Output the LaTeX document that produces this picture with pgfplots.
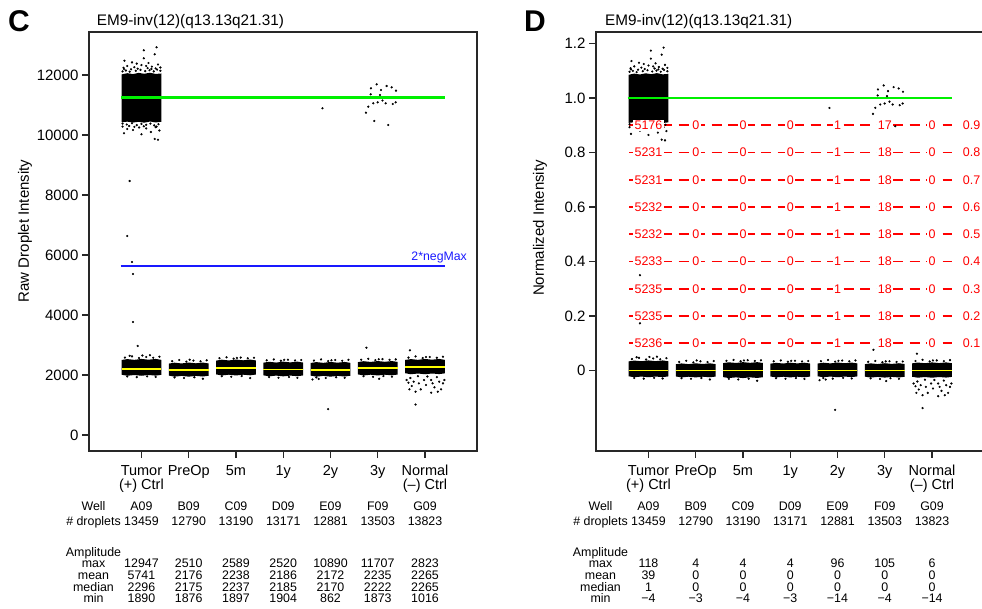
\documentclass[border=0pt]{standalone}
\usepackage{fontspec}
\setmainfont{Liberation Sans}
\usepackage{pgfplots}
\pgfplotsset{compat=1.18}
\definecolor{lgreen}{RGB}{0,240,0}
\definecolor{myyellow}{RGB}{255,255,0}
\definecolor{myblue}{RGB}{25,25,255}
\definecolor{myred}{RGB}{255,0,0}
\definecolor{axgray}{RGB}{40,40,40}
\newcommand\tabfont{\fontsize{12.4}{12.4}\selectfont}
\newcommand\redfont{\fontsize{12.5}{12.5}\selectfont}
\tikzset{tab/.style={font=\tabfont, inner sep=0pt, anchor=base}}
\newcommand\trow[4]{%
  \node[tab] at (93.5+#1,#2) {#3};
  \foreach \v [count=\i from 0] in {#4} {\node[tab] at (141.46+47.26*\i+#1,#2) {\v};}
}
\pgfplotsset{
  panel/.style={
    scale only axis, width=388pt, height=419pt,
    xmin=-1.11, xmax=7.1, clip=false,
    scaled y ticks=false,
    xtick={0,1,2,3,4,5,6},
    xticklabels={{Tumor\\(+) Ctrl},PreOp,5m,1y,2y,3y,{Normal\\(–) Ctrl}},
    xticklabel style={align=center, font=\fontsize{14.5}{14}\selectfont, yshift=-3.5pt},
    yticklabel style={font=\fontsize{15}{15}\selectfont},
    tick align=outside, tick pos=left, major tick length=7pt,
    axis line style={line width=1.2pt, axgray},
    every tick/.append style={line width=1.2pt, axgray},
    /pgf/number format/assume math mode=true,
  },
  dots/.style={only marks, mark=*, mark size=0.9pt, black, mark options={draw=none, fill=black}},
  blob/.style={fill=black, draw=none, mark=none},
  yel/.style={myyellow, line width=1.8pt, mark=none},
}
\begin{document}
\begin{tikzpicture}[x=1pt,y=1pt]
% ================= Panel C =================
\begin{axis}[panel, at={(89pt,157pt)}, anchor=south west,
  ymin=-533.3, ymax=13433.3,
  ytick={0,2000,4000,6000,8000,10000,12000},
  yticklabels={0,2000,4000,6000,8000,10000,12000}]
% positive cluster, tumor
\addplot[blob] coordinates {(-0.42,12020) (-0.3,12060) (-0.18,12030) (-0.06,12070) (0.06,12040) (0.18,12075) (0.3,12035) (0.42,12050) (0.42,10440) (0.3,10420) (0.18,10450) (0.06,10410) (-0.06,10440) (-0.18,10415) (-0.3,10445) (-0.42,10425)};
% negative clusters
\addplot[blob] coordinates {(-0.42,2010) (-0.42,2500) (-0.3,2530) (-0.15,2505) (0,2535) (0.15,2510) (0.3,2535) (0.42,2505) (0.42,2005) (0.3,1980) (0.15,2000) (0,1975) (-0.15,2000) (-0.3,1975)};
\addplot[blob] coordinates {(0.58,1980) (0.58,2380) (0.7,2410) (0.85,2385) (1,2415) (1.15,2390) (1.3,2415) (1.42,2385) (1.42,1975) (1.3,1950) (1.15,1970) (1,1945) (0.85,1970) (0.7,1945)};
\addplot[blob] coordinates {(1.58,2020) (1.58,2480) (1.7,2510) (1.85,2485) (2,2515) (2.15,2490) (2.3,2515) (2.42,2485) (2.42,2015) (2.3,1990) (2.15,2010) (2,1985) (1.85,2010) (1.7,1985)};
\addplot[blob] coordinates {(2.58,1990) (2.58,2410) (2.7,2440) (2.85,2415) (3,2445) (3.15,2420) (3.3,2445) (3.42,2415) (3.42,1985) (3.3,1960) (3.15,1980) (3,1955) (2.85,1980) (2.7,1955)};
\addplot[blob] coordinates {(3.58,1980) (3.58,2400) (3.7,2430) (3.85,2405) (4,2435) (4.15,2410) (4.3,2435) (4.42,2405) (4.42,1975) (4.3,1950) (4.15,1970) (4,1945) (3.85,1970) (3.7,1945)};
\addplot[blob] coordinates {(4.58,2020) (4.58,2430) (4.7,2460) (4.85,2435) (5,2465) (5.15,2440) (5.3,2465) (5.42,2435) (5.42,2015) (5.3,1990) (5.15,2010) (5,1985) (4.85,2010) (4.7,1985)};
\addplot[blob] coordinates {(5.58,2060) (5.58,2500) (5.7,2530) (5.85,2505) (6,2535) (6.15,2510) (6.3,2535) (6.42,2505) (6.42,2055) (6.3,2030) (6.15,2050) (6,2025) (5.85,2050) (5.7,2025)};
% scattered droplets
\addplot[dots] coordinates {(0.32,12923) (0.05,12823) (0.28,12690) (0.05,12557) (-0.36,12477) (-0.2,12420) (-0.1,12380) (0.15,12400) (0.35,12350) (-0.3,12300) (0.0,12330) (0.22,12280) (-0.15,12260) (0.4,12250) (-0.38,12240) (0.1,12300) (0.28,9867) (0.35,9843) (-0.37,10057) (0.0,10023) (-0.18,10167) (0.2,10100) (-0.3,10200) (0.1,10220) (0.38,10150) (-0.05,10250) (0.3,10260) (-0.4,10280)
 (-0.4,12120) (-0.33,12150) (-0.25,12110) (-0.12,12140) (-0.02,12170) (0.08,12130) (0.17,12160) (0.26,12120) (0.33,12180) (0.4,12140) (-0.37,12200) (-0.08,12210) (0.13,12230) (0.3,12220) (-0.22,12190) (0.21,12200)
 (-0.4,10380) (-0.31,10350) (-0.2,10390) (-0.1,10330) (0.0,10370) (0.1,10340) (0.19,10380) (0.27,10320) (0.36,10360) (-0.26,10300) (0.05,10290) (0.32,10280) (-0.15,10270)
 (-0.25,8467) (-0.3,6633) (-0.2,5767) (-0.18,5367) (-0.18,3767) (-0.08,2967)
 (-0.35,2580) (-0.2,2620) (-0.05,2565) (0.1,2600) (0.25,2575) (0.38,2610) (0.02,2650) (-0.3,1950) (-0.1,1930) (0.12,1955) (0.3,1935) (-0.25,2640) (0.18,2660)
 (0.65,2460) (0.8,2500) (0.95,2445) (1.1,2480) (1.25,2455) (1.38,2490) (1.02,2510) (0.7,1920) (0.9,1900) (1.12,1925) (1.3,1876)
 (1.65,2560) (1.8,2589) (1.95,2545) (2.1,2580) (2.25,2555) (2.38,2575) (2.02,2570) (1.7,1960) (1.9,1940) (2.12,1965) (2.3,1897)
 (2.65,2490) (2.8,2520) (2.95,2475) (3.1,2510) (3.25,2485) (3.38,2500) (3.02,2505) (2.7,1930) (2.9,1910) (3.12,1935) (3.3,1904)
 (3.65,2480) (3.8,2520) (3.95,2465) (4.1,2500) (4.25,2475) (4.38,2505) (4.02,2490) (3.7,1920) (3.9,1900) (4.12,1925) (4.3,1905) (3.62,1850) (3.75,1870) (3.95,862) (3.83,10890)
 (4.65,2510) (4.8,2540) (4.95,2495) (5.1,2530) (5.25,2505) (5.38,2520) (5.02,2525) (4.7,1960) (4.9,1940) (5.12,1965) (5.3,1945) (4.76,2910) (5.03,1873)
 (4.977,11689) (5.188,11633) (5.294,11589) (4.856,11556) (5.068,11500) (5.386,11478) (4.850,11356) (5.047,11333) (5.379,11089) (4.905,11056) (4.998,11089) (5.167,11056) (5.316,11033) (4.800,10944) (4.750,10744) (4.927,10467) (5.223,10333) (5.1,11150)
 (5.65,2580) (5.8,2620) (5.95,2565) (6.1,2600) (6.25,2575) (6.38,2610) (6.02,2600) (5.68,2823)
 (5.61,1833) (5.65,1744) (5.72,1633) (5.67,1522) (5.80,1444) (5.91,1522) (6.02,1667) (6.13,1833) (6.16,1722) (6.20,1589) (6.27,1444) (6.34,1522) (6.38,1722) (6.41,1833) (6.13,1411) (5.98,1833) (5.76,1778) (5.87,1722) (6.30,1778) (5.69,1900) (6.05,1950) (5.85,1960) (6.25,1930) (5.80,1016)};
% lines
\addplot[color=lgreen, line width=2.2pt, mark=none] coordinates {(-0.44,11250) (6.42,11250)};
\addplot[color=myblue, line width=2pt, mark=none] coordinates {(-0.44,5646) (6.42,5646)};
\addplot[yel] coordinates {(-0.42,2200) (0.42,2200)};
\addplot[yel] coordinates {(0.58,2175) (1.42,2175)};
\addplot[yel] coordinates {(1.58,2237) (2.42,2237)};
\addplot[yel] coordinates {(2.58,2185) (3.42,2185)};
\addplot[yel] coordinates {(3.58,2170) (4.42,2170)};
\addplot[yel] coordinates {(4.58,2222) (5.42,2222)};
\addplot[yel] coordinates {(5.58,2265) (6.42,2265)};
\node[anchor=base east, text=myblue, font=\fontsize{12.3}{12}\selectfont, inner sep=0pt] at (axis cs:6.89,5833) {2*negMax};
\end{axis}
% ================= Panel D =================
\begin{axis}[panel, at={(596pt,157pt)}, anchor=south west,
  ymin=-0.2954, ymax=1.2422,
  ytick={0,0.2,0.4,0.6,0.8,1.0,1.2},
  yticklabels={0,0.2,0.4,0.6,0.8,1.0,1.2}]
\addplot[blob] coordinates {(-0.42,1.0851) (-0.3,1.0895) (-0.18,1.0862) (-0.06,1.0906) (0.06,1.0873) (0.18,1.0912) (0.3,1.0867) (0.42,1.0884) (0.42,0.9105) (0.3,0.9083) (0.18,0.9116) (0.06,0.9072) (-0.06,0.9105) (-0.18,0.9077) (-0.3,0.9111) (-0.42,0.9088)};
\addplot[blob] coordinates {(-0.42,-0.0212) (-0.42,0.0334) (-0.3,0.0364) (-0.15,0.0339) (0,0.0369) (0.15,0.0344) (0.3,0.0369) (0.42,0.0339) (0.42,-0.0217) (0.3,-0.0242) (0.15,-0.0222) (0,-0.0247) (-0.15,-0.0222) (-0.3,-0.0247)};
\addplot[blob] coordinates {(0.58,-0.0218) (0.58,0.0229) (0.7,0.0259) (0.85,0.0234) (1,0.0264) (1.15,0.0239) (1.3,0.0264) (1.42,0.0234) (1.42,-0.0223) (1.3,-0.0248) (1.15,-0.0228) (1,-0.0253) (0.85,-0.0228) (0.7,-0.0253)};
\addplot[blob] coordinates {(1.58,-0.0242) (1.58,0.0271) (1.7,0.0301) (1.85,0.0276) (2,0.0306) (2.15,0.0281) (2.3,0.0306) (2.42,0.0276) (2.42,-0.0247) (2.3,-0.0272) (2.15,-0.0252) (2,-0.0277) (1.85,-0.0252) (1.7,-0.0277)};
\addplot[blob] coordinates {(2.58,-0.0218) (2.58,0.0251) (2.7,0.0281) (2.85,0.0256) (3,0.0286) (3.15,0.0261) (3.3,0.0286) (3.42,0.0256) (3.42,-0.0223) (3.3,-0.0248) (3.15,-0.0228) (3,-0.0253) (2.85,-0.0228) (2.7,-0.0253)};
\addplot[blob] coordinates {(3.58,-0.0212) (3.58,0.0256) (3.7,0.0286) (3.85,0.0261) (4,0.0291) (4.15,0.0266) (4.3,0.0291) (4.42,0.0261) (4.42,-0.0217) (4.3,-0.0242) (4.15,-0.0222) (4,-0.0247) (3.85,-0.0222) (3.7,-0.0247)};
\addplot[blob] coordinates {(4.58,-0.0225) (4.58,0.0232) (4.7,0.0262) (4.85,0.0237) (5,0.0267) (5.15,0.0242) (5.3,0.0267) (5.42,0.0237) (5.42,-0.0230) (5.3,-0.0255) (5.15,-0.0235) (5,-0.0260) (4.85,-0.0235) (4.7,-0.0260)};
\addplot[blob] coordinates {(5.58,-0.0229) (5.58,0.0262) (5.7,0.0292) (5.85,0.0267) (6,0.0297) (6.15,0.0272) (6.3,0.0297) (6.42,0.0267) (6.42,-0.0234) (6.3,-0.0259) (6.15,-0.0239) (6,-0.0264) (5.85,-0.0239) (5.7,-0.0264)};
\addplot[dots] coordinates {(0.32,1.1849) (0.05,1.1738) (0.28,1.1591) (0.05,1.1444) (-0.36,1.1356) (-0.2,1.1293) (-0.1,1.1249) (0.15,1.1271) (0.35,1.1215) (-0.3,1.1160) (0.0,1.1193) (0.22,1.1138) (-0.15,1.1116) (0.4,1.1105) (-0.38,1.1094) (0.1,1.1160) (0.28,0.8472) (0.35,0.8445) (-0.37,0.8682) (0.0,0.8644) (-0.18,0.8803) (0.2,0.8729) (-0.3,0.8840) (0.1,0.8862) (0.38,0.8785) (-0.05,0.8895) (0.3,0.8906) (-0.4,0.8928)
 (-0.4,1.0961) (-0.33,1.0994) (-0.25,1.0950) (-0.12,1.0983) (-0.02,1.1017) (0.08,1.0972) (0.17,1.1006) (0.26,1.0961) (0.33,1.1028) (0.4,1.0983) (-0.37,1.1050) (-0.08,1.1061) (0.13,1.1083) (0.3,1.1072) (-0.22,1.1039) (0.21,1.1050)
 (-0.4,0.9039) (-0.31,0.9006) (-0.2,0.9050) (-0.1,0.8983) (0.0,0.9028) (0.1,0.8994) (0.19,0.9039) (0.27,0.8972) (0.36,0.9017) (-0.26,0.8950) (0.05,0.8939) (0.32,0.8928) (-0.15,0.8917)
 (-0.25,0.6925) (-0.3,0.4898) (-0.2,0.3941) (-0.18,0.3499) (-0.18,0.1731) (-0.08,0.0848)
 (-0.35,0.0420) (-0.2,0.0464) (-0.05,0.0403) (0.1,0.0442) (0.25,0.0414) (0.38,0.0453) (0.02,0.0497) (-0.3,-0.0276) (-0.1,-0.0298) (0.12,-0.0271) (0.3,-0.0293) (-0.25,0.0486) (0.18,0.0508)
 (0.65,0.0315) (0.8,0.0359) (0.95,0.0298) (1.1,0.0337) (1.25,0.0309) (1.38,0.0348) (1.02,0.0370) (0.7,-0.0282) (0.9,-0.0304) (1.12,-0.0276) (1.3,-0.0330)
 (1.65,0.0357) (1.8,0.0389) (1.95,0.0340) (2.1,0.0379) (2.25,0.0351) (2.38,0.0373) (2.02,0.0368) (1.7,-0.0306) (1.9,-0.0328) (2.12,-0.0301) (2.3,-0.0376)
 (2.65,0.0337) (2.8,0.0370) (2.95,0.0320) (3.1,0.0359) (3.25,0.0331) (3.38,0.0348) (3.02,0.0354) (2.7,-0.0282) (2.9,-0.0304) (3.12,-0.0276) (3.3,-0.0310)
 (3.65,0.0343) (3.8,0.0387) (3.95,0.0326) (4.1,0.0365) (4.25,0.0337) (4.38,0.0370) (4.02,0.0354) (3.7,-0.0276) (3.9,-0.0298) (4.12,-0.0271) (4.3,-0.0293) (3.62,-0.0354) (3.75,-0.0331) (3.95,-0.1445) (3.83,0.9635)
 (4.65,0.0318) (4.8,0.0351) (4.95,0.0302) (5.1,0.0340) (5.25,0.0313) (5.38,0.0329) (5.02,0.0335) (4.7,-0.0290) (4.9,-0.0312) (5.12,-0.0284) (5.3,-0.0306) (4.76,0.0760) (5.03,-0.0386)
 (4.977,1.0461) (5.188,1.0399) (5.294,1.0350) (4.856,1.0314) (5.068,1.0252) (5.386,1.0228) (4.850,1.0093) (5.047,1.0067) (5.379,0.9798) (4.905,0.9761) (4.998,0.9798) (5.167,0.9761) (5.316,0.9736) (4.800,0.9638) (4.750,0.9417) (4.927,0.9110) (5.223,0.8963) (5.1,0.9865)
 (5.65,0.0348) (5.8,0.0392) (5.95,0.0331) (6.1,0.0370) (6.25,0.0343) (6.38,0.0381) (6.02,0.0370) (5.68,0.0617)
 (5.61,-0.0477) (5.65,-0.0576) (5.72,-0.0698) (5.67,-0.0821) (5.80,-0.0907) (5.91,-0.0821) (6.02,-0.0661) (6.13,-0.0477) (6.16,-0.0600) (6.20,-0.0747) (6.27,-0.0907) (6.34,-0.0821) (6.38,-0.0600) (6.41,-0.0477) (6.13,-0.0944) (5.98,-0.0477) (5.76,-0.0538) (5.87,-0.0600) (6.30,-0.0538) (5.69,-0.0403) (6.05,-0.0348) (5.85,-0.0337) (6.25,-0.0370) (5.80,-0.1380)};
\addplot[color=lgreen, line width=2.2pt, mark=none] coordinates {(-0.44,1) (6.42,1)};
\addplot[yel] coordinates {(-0.42,0) (0.42,0)};
\addplot[yel] coordinates {(0.58,0) (1.42,0)};
\addplot[yel] coordinates {(1.58,0) (2.42,0)};
\addplot[yel] coordinates {(2.58,0) (3.42,0)};
\addplot[yel] coordinates {(3.58,0) (4.42,0)};
\addplot[yel] coordinates {(4.58,0) (5.42,0)};
\addplot[yel] coordinates {(5.58,0) (6.42,0)};
% threshold lines
\pgfplotsinvokeforeach{0.1,0.2,0.3,0.4,0.5,0.6,0.7,0.8,0.9}{
  \addplot[color=myred, line width=1.8pt, dash pattern=on 10pt off 6.5pt, mark=none] coordinates {(-0.41,#1) (6.42,#1)};
}
\addplot[only marks, mark=none, nodes near coords, point meta=explicit symbolic,
  nodes near coords align=center,
  every node near coord/.append style={fill=white, text=myred, inner sep=1.3pt, font=\redfont}]
  table[meta=lab] {
x y lab
0 0.9 5176
1 0.9 0
2 0.9 0
3 0.9 0
4 0.9 1
5 0.9 17
6 0.9 0
0 0.8 5231
1 0.8 0
2 0.8 0
3 0.8 0
4 0.8 1
5 0.8 18
6 0.8 0
0 0.7 5231
1 0.7 0
2 0.7 0
3 0.7 0
4 0.7 1
5 0.7 18
6 0.7 0
0 0.6 5232
1 0.6 0
2 0.6 0
3 0.6 0
4 0.6 1
5 0.6 18
6 0.6 0
0 0.5 5232
1 0.5 0
2 0.5 0
3 0.5 0
4 0.5 1
5 0.5 18
6 0.5 0
0 0.4 5233
1 0.4 0
2 0.4 0
3 0.4 0
4 0.4 1
5 0.4 18
6 0.4 0
0 0.3 5235
1 0.3 0
2 0.3 0
3 0.3 0
4 0.3 1
5 0.3 18
6 0.3 0
0 0.2 5235
1 0.2 0
2 0.2 0
3 0.2 0
4 0.2 1
5 0.2 18
6 0.2 0
0 0.1 5236
1 0.1 0
2 0.1 0
3 0.1 0
4 0.1 1
5 0.1 18
6 0.1 0
};
\addplot[only marks, mark=none, nodes near coords, point meta=explicit symbolic,
  nodes near coords align=west,
  every node near coord/.append style={text=myred, inner sep=0pt, font=\redfont}]
  table[meta=lab] {
x y lab
6.649 0.9 0.9
6.649 0.8 0.8
6.649 0.7 0.7
6.649 0.6 0.6
6.649 0.5 0.5
6.649 0.4 0.4
6.649 0.3 0.3
6.649 0.2 0.2
6.649 0.1 0.1
};
\end{axis}
% ================= Texts =================
\node[font=\fontsize{30}{30}\selectfont\bfseries] at (19,587) {C};
\node[font=\fontsize{30}{30}\selectfont\bfseries] at (535,587) {D};
\node[anchor=base west, font=\fontsize{15.3}{15}\selectfont, inner sep=0pt] at (96.7,582) {EM9-inv(12)(q13.13q21.31)};
\node[anchor=base west, font=\fontsize{15.3}{15}\selectfont, inner sep=0pt] at (605,582) {EM9-inv(12)(q13.13q21.31)};
\node[rotate=90, font=\fontsize{15}{15}\selectfont] at (25,377) {Raw Droplet Intensity};
\node[rotate=90, font=\fontsize{15}{15}\selectfont] at (540,380) {Normalized Intensity};
% tables
\trow{0}{98}{Well}{A09,B09,C09,D09,E09,F09,G09}
\trow{0}{82.7}{\# droplets}{13459,12790,13190,13171,12881,13503,13823}
\node[tab] at (93.5,52) {Amplitude};
\trow{0}{40.4}{max}{12947,2510,2589,2520,10890,11707,2823}
\trow{0}{28.7}{mean}{5741,2176,2238,2186,2172,2235,2265}
\trow{0}{17}{median}{2296,2175,2237,2185,2170,2222,2265}
\trow{0}{5.4}{min}{1890,1876,1897,1904,862,1873,1016}
\trow{507}{98}{Well}{A09,B09,C09,D09,E09,F09,G09}
\trow{507}{82.7}{\# droplets}{13459,12790,13190,13171,12881,13503,13823}
\node[tab] at (600.5,52) {Amplitude};
\trow{507}{40.4}{max}{118,4,4,4,96,105,6}
\trow{507}{28.7}{mean}{39,0,0,0,0,0,0}
\trow{507}{17}{median}{1,0,0,0,0,0,0}
\trow{507}{5.4}{min}{−4,−3,−4,−3,−14,−4,−14}
\pgfresetboundingbox
\useasboundingbox (0,0) rectangle (982,608);
\end{tikzpicture}
\end{document}
